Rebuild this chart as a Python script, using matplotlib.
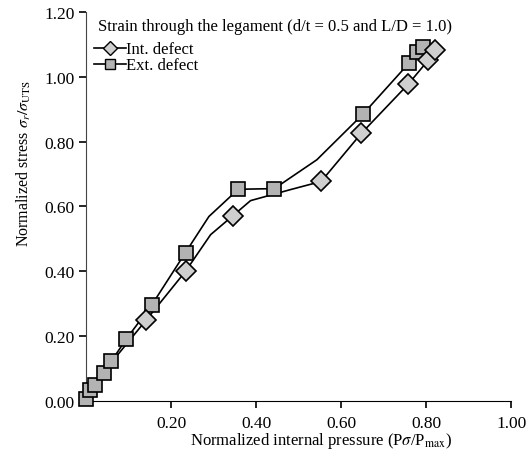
import matplotlib.pyplot as plt

plt.rcParams['font.family'] = ['Liberation Serif', 'DejaVu Serif']
plt.rcParams['mathtext.fontset'] = 'stix'
plt.rcParams['font.size'] = 12

# External defect (squares) - markers and line share the same points plus two bends
ext_x = [0.0, 0.009, 0.022, 0.042, 0.059, 0.095, 0.155, 0.234, 0.358, 0.443, 0.651, 0.759, 0.778, 0.793]
ext_y = [0.005, 0.033, 0.051, 0.085, 0.122, 0.192, 0.297, 0.458, 0.653, 0.655, 0.884, 1.041, 1.075, 1.092]
ext_line_x = [0.0, 0.009, 0.022, 0.042, 0.059, 0.095, 0.155, 0.234, 0.289, 0.358, 0.443, 0.543, 0.651, 0.759, 0.778, 0.793]
ext_line_y = [0.005, 0.033, 0.051, 0.085, 0.122, 0.192, 0.297, 0.458, 0.569, 0.653, 0.655, 0.744, 0.884, 1.041, 1.075, 1.092]

# Internal defect (diamonds)
int_x = [0.141, 0.234, 0.345, 0.553, 0.648, 0.758, 0.805, 0.822]
int_y = [0.249, 0.400, 0.571, 0.677, 0.826, 0.977, 1.051, 1.082]
int_line_x = [0.0, 0.059, 0.141, 0.234, 0.293, 0.345, 0.387, 0.481, 0.553, 0.648, 0.758, 0.805, 0.822]
int_line_y = [0.005, 0.118, 0.249, 0.400, 0.513, 0.571, 0.618, 0.652, 0.677, 0.826, 0.977, 1.051, 1.082]

xticks = [0.2, 0.4, 0.6, 0.8, 1.0]
yticks = [0.0, 0.2, 0.4, 0.6, 0.8, 1.0, 1.2]

fig = plt.figure(figsize=(5.28, 4.60), dpi=100)
ax = fig.add_axes([0.163, 0.126, 0.805, 0.846])

# lines first, then markers
ax.plot(ext_line_x, ext_line_y, color='black', lw=1.2, zorder=2, clip_on=False)
ax.plot(int_line_x, int_line_y, color='black', lw=1.2, zorder=2, clip_on=False)
ax.plot(ext_x, ext_y, ls='none', marker='s', ms=10.5, mfc='#b3b3b3', mec='black', mew=1.2,
        zorder=3, clip_on=False)
ax.plot(int_x, int_y, ls='none', marker='D', ms=10, mfc='#cfcfcf', mec='black', mew=1.2,
        zorder=4, clip_on=False)

# legend handles
h_int, = ax.plot([], [], color='black', lw=1.2, marker='D', ms=7, mfc='#cfcfcf', mec='black', mew=1.0)
h_ext, = ax.plot([], [], color='black', lw=1.2, marker='s', ms=7, mfc='#b3b3b3', mec='black', mew=1.0)
ax.legend([h_int, h_ext], ['Int. defect', 'Ext. defect'], loc='upper left',
          bbox_to_anchor=(-0.005, 0.95), frameon=False, handlelength=1.9,
          handletextpad=0.0, borderaxespad=0.2, labelspacing=0.0, fontsize=12)
ax.text(0.028, 0.985, 'Strain through the legament (d/t = 0.5 and L/D = 1.0)',
        transform=ax.transAxes, ha='left', va='top', fontsize=12)

ax.set_xlim(0, 1.0)
ax.set_ylim(0, 1.2)
ax.set_xticks(xticks)
ax.set_yticks(yticks)
ax.set_xticklabels(['%.2f' % v for v in xticks])
ax.set_yticklabels(['%.2f' % v for v in yticks])
ax.spines['top'].set_visible(False)
ax.spines['right'].set_visible(False)
ax.spines['left'].set_color('#444444')
ax.tick_params(direction='out', length=5, width=1.2, labelsize=12.5)
ax.tick_params(axis='x', pad=5)
ax.tick_params(axis='y', pad=3)

ax.set_xlabel(r'Normalized internal pressure (P$\sigma$/P$_{\rm max}$)', fontsize=12)
ax.set_ylabel(r'Normalized stress $\sigma_r/\sigma_{\rm UTS}$', fontsize=11.5)
ax.xaxis.set_label_coords(0.553, -0.075)
ax.yaxis.set_label_coords(-0.125, 0.614)

fig.savefig('out.png', dpi=100)
